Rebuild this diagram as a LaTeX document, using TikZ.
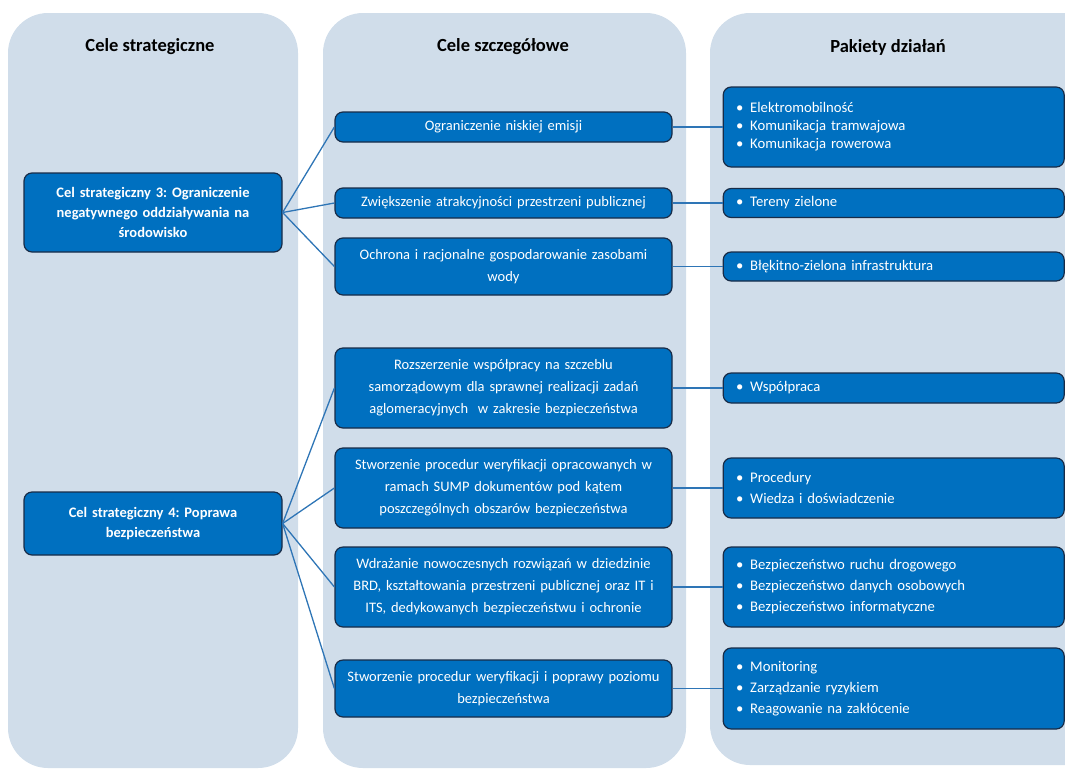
\documentclass[tikz,border=0pt]{standalone}
\usepackage{fontspec}
\setmainfont{Carlito}
\usetikzlibrary{positioning}
\definecolor{panelbg}{RGB}{208,221,234}
\definecolor{boxblue}{RGB}{0,112,192}
\definecolor{boxline}{RGB}{24,44,72}
\definecolor{linkblue}{RGB}{46,117,182}
\newcommand{\pkt}{\makebox[14pt][l]{\textbullet}}
\frenchspacing

\begin{document}
\begin{tikzpicture}[x=1pt, y=-1pt,
    panel/.style={fill=panelbg, rounded corners=40pt},
    head/.style={font=\fontsize{18.5}{22}\selectfont\bfseries},
    blok/.style={rectangle, rounded corners=8pt, draw=boxline, line width=1.2pt, fill=boxblue, text=white},
    goal/.style={blok, minimum width=258pt, text width=250pt, align=center, font=\fontsize{14.5}{20}\selectfont\bfseries},
    sub/.style={blok, minimum width=337pt, text width=330pt, align=center, font=\fontsize{14.5}{22}\selectfont},
    pack/.style={blok, minimum width=341pt, text width=315pt, inner xsep=13pt, align=left, font=\fontsize{14.7}{21}\selectfont},
    link/.style={draw=linkblue, line width=1.3pt}
]
\useasboundingbox (0,0) rectangle (1065,769);
\clip (0,0) rectangle (1065,769);

% columns
\fill[panel] (8,13) rectangle (298,768);
\fill[panel] (323,13) rectangle (686,768);
\fill[panel] (710,13) rectangle (1110,765);

\node[head] (h1) at (150,47) {Cele strategiczne};
\node[head] (h2) at (503,47) {Cele szczegółowe};
\node[head] (h3) at (888,47) {Pakiety działań};

% strategic goals
\node[goal, minimum height=79pt] (c3) at (153,212.5) {Cel strategiczny 3: Ograniczenie\\negatywnego oddziaływania na\\środowisko};
\node[goal, minimum height=63pt] (c4) at (153,523.5) {Cel strategiczny 4: Poprawa\\bezpieczeństwa};

% detailed goals
\node[sub, minimum height=30pt] (s1) at (503.5,127) {Ograniczenie niskiej emisji};
\node[sub, minimum height=30pt] (s2) at (503.5,203) {Zwiększenie atrakcyjności przestrzeni publicznej};
\node[sub, minimum height=57pt] (s3) at (503.5,266.5) {Ochrona i racjonalne gospodarowanie zasobami\\wody};
\node[sub, minimum height=80pt] (s4) at (503.5,388) {Rozszerzenie współpracy na szczeblu\\samorządowym dla sprawnej realizacji zadań\\aglomeracyjnych \ w zakresie bezpieczeństwa};
\node[sub, minimum height=80pt] (s5) at (503.5,488) {Stworzenie procedur weryfikacji opracowanych w\\ramach SUMP dokumentów pod kątem\\poszczególnych obszarów bezpieczeństwa};
\node[sub, minimum height=80pt] (s6) at (503.5,587) {Wdrażanie nowoczesnych rozwiązań w dziedzinie\\BRD, kształtowania przestrzeni publicznej oraz IT i\\ITS, dedykowanych bezpieczeństwu i ochronie};
\node[sub, minimum height=57pt] (s7) at (503.5,688.5) {Stworzenie procedur weryfikacji i poprawy poziomu\\bezpieczeństwa};

% action packages
\node[pack, minimum height=80pt, font=\fontsize{14.7}{18}\selectfont, right=50pt of s1] (p1) {\pkt Elektromobilność\\\pkt Komunikacja tramwajowa\\\pkt Komunikacja rowerowa};
\node[pack, minimum height=29pt, right=50pt of s2] (p2) {\pkt Tereny zielone};
\node[pack, minimum height=29pt, right=50pt of s3] (p3) {\pkt Błękitno-zielona infrastruktura};
\node[pack, minimum height=30pt, right=50pt of s4] (p4) {\pkt Współpraca};
\node[pack, minimum height=60pt, right=50pt of s5] (p5) {\pkt Procedury\\\pkt Wiedza i doświadczenie};
\node[pack, minimum height=80pt, right=50pt of s6] (p6) {\pkt Bezpieczeństwo ruchu drogowego\\\pkt Bezpieczeństwo danych osobowych\\\pkt Bezpieczeństwo informatyczne};
\node[pack, minimum height=81pt, right=50pt of s7] (p7) {\pkt Monitoring\\\pkt Zarządzanie ryzykiem\\\pkt Reagowanie na zakłócenie};

% connectors
\foreach \s in {s1,s2,s3}
  \draw[link] (c3.east) -- (\s.west);
\foreach \s in {s4,s5,s6,s7}
  \draw[link] (c4.east) -- (\s.west);
\foreach \i in {1,...,7}
  \draw[link] (s\i.east) -- (p\i.west);

\end{tikzpicture}
\end{document}
